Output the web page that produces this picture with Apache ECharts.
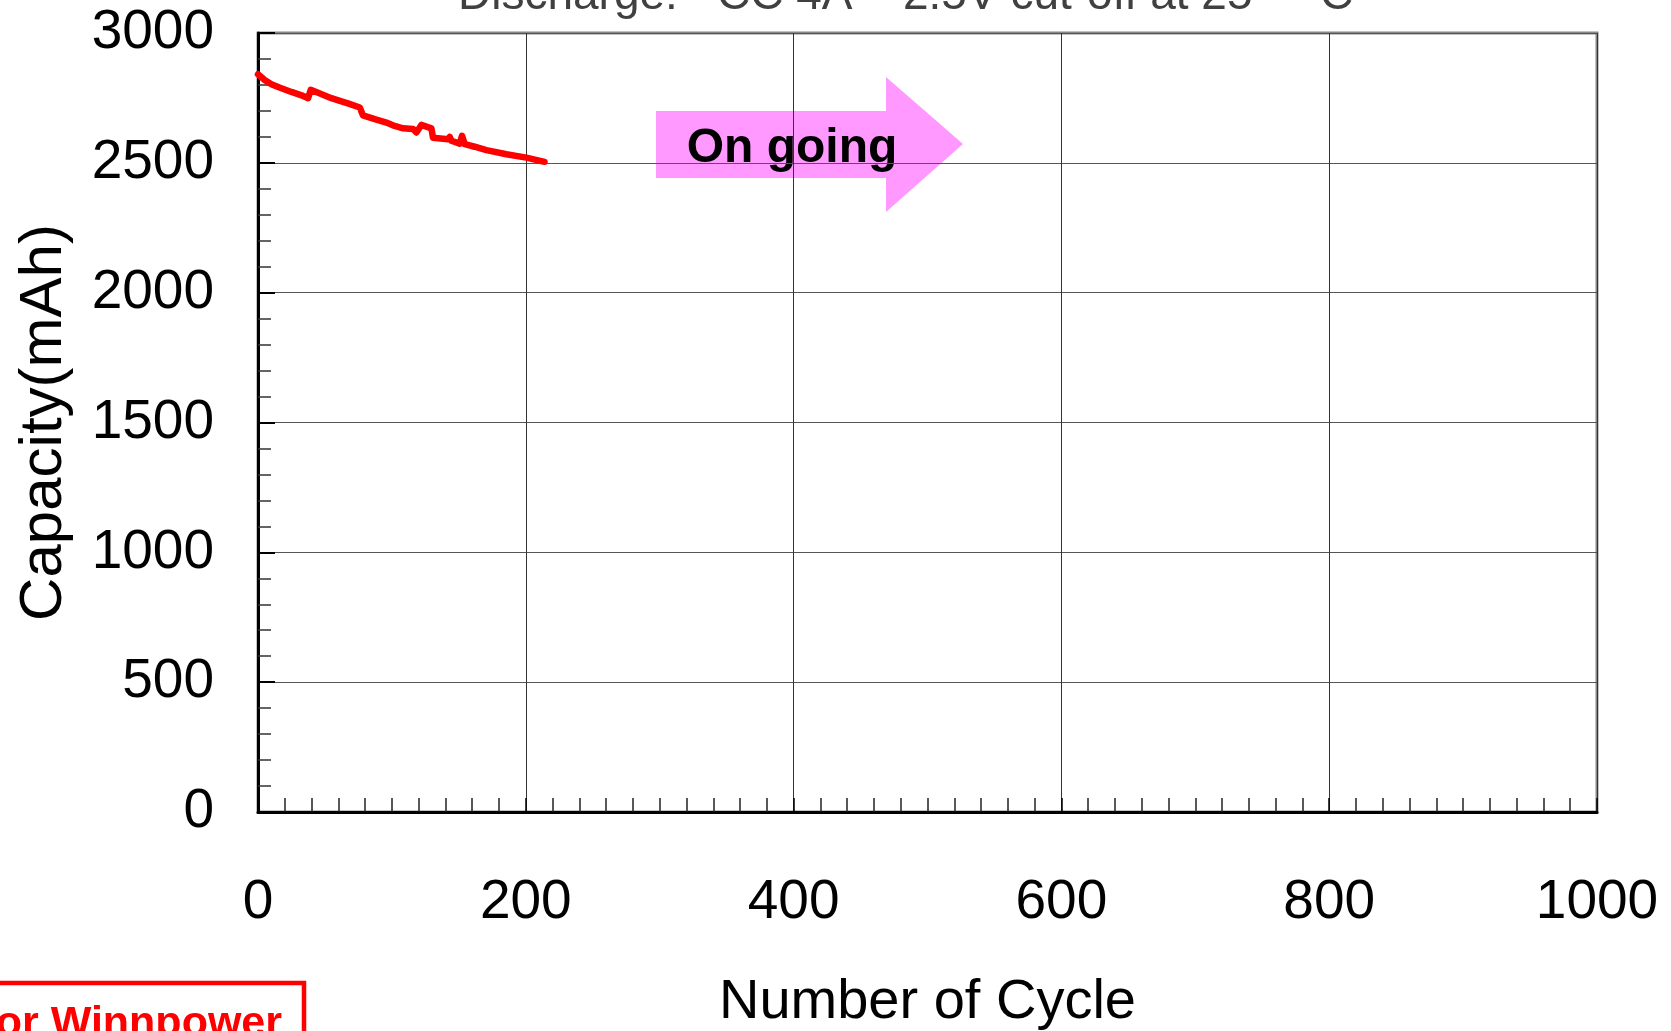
<!DOCTYPE html>
<html lang="en">
<head>
    <meta charset="UTF-8" />
    <title>Cycle Life</title>
    <script src="https://cdn.jsdelivr.net/npm/echarts@6/dist/echarts.min.js"></script>
    <style>
        html, body { margin: 0; padding: 0; background: #fff; }
        #main { width: 1671px; height: 1031px; }
    </style>
</head>
<body>
<div id="main"></div>
<script type="text/javascript">
    // cycle life data
    var cycles   = [0, 5, 10, 16, 25, 32.5, 37.4, 39.4, 44.9, 54.8, 63.5, 64.7, 67.2, 76, 78.4, 87.2, 95.9, 102, 108.3,
                    115.8, 118.3, 122, 129.5, 130.7, 141.9, 143.2, 144.4, 150.6, 152.4, 154.4, 161.8, 170.6, 185.5, 200.4, 214];
    var capacity = [2841, 2819, 2803, 2790, 2773, 2760, 2749, 2781, 2770, 2749, 2735, 2742, 2729, 2713, 2683, 2668, 2655, 2642, 2633,
                    2630, 2617, 2646, 2633, 2597, 2591, 2600, 2585, 2574, 2604, 2572, 2562, 2549, 2533, 2520, 2504];

    var xTicks = { min: 0, max: 1000, step: 200, minor: 10 };
    var yTicks = { min: 0, max: 3000, step: 500, minor: 5 };

    var titleParts = [
        { text: 'Discharge:', x: 458 },
        { text: 'CC 4A', x: 717 },
        { text: '2.5V cut-off at 25', x: 903 },
        { text: '°', x: 1290 },
        { text: 'C', x: 1320 }
    ];

    var font = '"Liberation Sans", Arial, Helvetica, sans-serif';
    var chart = echarts.init(document.getElementById('main'));

    var graphics = titleParts.map(function (p) {
        return {
            type: 'text', left: p.x, top: -27,
            style: { text: p.text, font: '46px ' + font, fill: '#404040' }
        };
    });
    // "On going" arrow
    graphics.push({
        type: 'polygon',
        shape: { points: [[656, 111], [886, 111], [886, 77], [963, 144], [886, 212], [886, 178], [656, 178]] },
        style: { fill: '#ff99ff' }
    });
    graphics.push({
        type: 'text', x: 792, y: 149,
        style: { text: 'On going', font: 'bold 48px ' + font, fill: '#000', align: 'center', verticalAlign: 'middle' }
    });
    // red box bottom-left
    graphics.push({
        type: 'rect',
        shape: { x: -20, y: 983, width: 324, height: 100 },
        style: { fill: 'none', stroke: '#ff0000', lineWidth: 4.5 }
    });
    graphics.push({
        type: 'text', x: 282, y: 1003,
        style: { text: 'for Winnpower', font: 'bold 43px ' + font, fill: '#ff0000', align: 'right', verticalAlign: 'top' }
    });

    function plain(v) { return String(v); }

    chart.setOption({
        animation: false,
        grid: {
            left: 258, right: 74, top: 33, bottom: 219,
            outerBoundsMode: 'none',
            show: true, borderColor: '#888', borderWidth: 3, backgroundColor: 'transparent'
        },
        xAxis: {
            type: 'value',
            min: xTicks.min, max: xTicks.max, interval: xTicks.step,
            name: 'Number of Cycle',
            nameLocation: 'middle',
            nameGap: 163,
            nameTextStyle: { fontFamily: font, fontSize: 56, color: '#000' },
            axisLine: { lineStyle: { color: '#000', width: 3 } },
            axisTick: { show: true, inside: true, length: 14, lineStyle: { color: '#000', width: 1.5 } },
            minorTick: { show: true, splitNumber: xTicks.minor, length: 14, lineStyle: { color: '#222', width: 1.5 } },
            splitLine: { show: true, lineStyle: { color: '#333', width: 1 } },
            axisLabel: { fontFamily: font, fontSize: 55, color: '#000', margin: 63, formatter: plain }
        },
        yAxis: {
            type: 'value',
            min: yTicks.min, max: yTicks.max, interval: yTicks.step,
            name: 'Capacity(mAh)',
            nameLocation: 'middle',
            nameGap: 184,
            nameTextStyle: { fontFamily: font, fontSize: 60, color: '#000' },
            axisLine: { lineStyle: { color: '#000', width: 3 } },
            axisTick: { show: true, inside: true, length: 17, lineStyle: { color: '#000', width: 2 } },
            minorTick: { show: true, splitNumber: yTicks.minor, length: 13, lineStyle: { color: '#333', width: 1.5 } },
            splitLine: { show: true, lineStyle: { color: '#555', width: 1.2 } },
            axisLabel: { fontFamily: font, fontSize: 55, color: '#000', margin: 44, formatter: plain }
        },
        series: [{
            type: 'line',
            data: cycles.map(function (c, i) { return [c, capacity[i]]; }),
            showSymbol: false,
            lineStyle: { color: '#ff0000', width: 6.5, join: 'round', cap: 'round' },
            itemStyle: { color: '#ff0000' }
        }],
        graphic: graphics
    });
</script>
</body>
</html>
